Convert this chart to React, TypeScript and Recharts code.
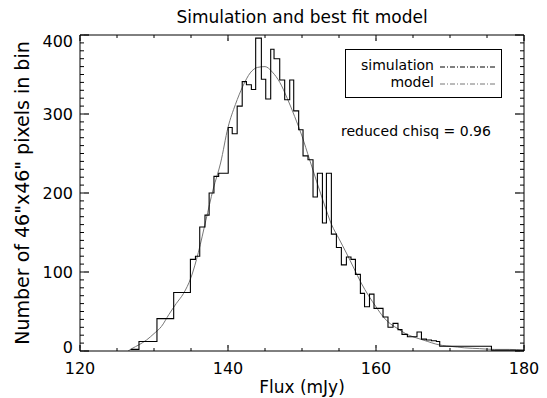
import { ComposedChart, Line, XAxis, YAxis, Legend, Label } from "recharts";

// histogram: left edge of each bin and its count, last bin closes at histEnd
const binLeft = [
  126.85, 127.97, 130.4, 132.66, 134.92, 135.6, 136.18, 136.89, 137.45, 138.1,
  138.74, 140.03, 140.57, 141.24, 141.92, 142.49, 143.16, 143.74, 144.51, 145.1,
  145.77, 146.22, 146.99, 147.66, 148.34, 148.88, 149.55, 150.14, 150.81, 151.49,
  152.08, 152.76, 153.3, 153.97, 154.65, 155.32, 156.0, 156.62, 157.22, 157.89,
  158.45, 159.12, 159.73, 160.95, 161.62, 162.3, 162.97, 163.51, 164.24, 165.54,
  166.14, 166.81, 167.49, 168.16, 168.61, 175.6,
];
const binCount = [
  2, 12, 41, 74, 116, 120, 157, 172, 200, 221,
  225, 283, 275, 310, 341, 337, 331, 396, 344, 319,
  382, 370, 343, 318, 343, 304, 280, 247, 242, 195,
  225, 162, 225, 148, 131, 109, 119, 116, 97, 73,
  56, 72, 54, 43, 30, 35, 27, 21, 18, 24,
  15, 14, 13, 12, 6, 1,
];
const histEnd = 180;

// best fit model curve
const modelFlux = [
  126.5, 127, 128, 129, 130, 131, 132, 133, 134, 135, 136, 137, 138, 139, 140,
  141, 142, 143, 144, 145, 146, 147, 148, 149, 150, 151, 152, 153, 154, 155,
  156, 157, 158, 159, 160, 161, 162, 163, 164, 165, 166, 167, 168, 169, 170,
  172, 174, 176, 178, 180,
];
const modelCount = [
  0, 3, 8, 14, 22, 31, 46, 60, 73, 93, 125, 165, 205, 238, 283,
  312, 335, 352, 359, 360, 353, 340, 320, 297, 272, 243, 214, 186, 160, 142,
  124, 105, 86, 70, 56, 43, 34, 28, 22, 18, 15, 12, 9, 7, 6,
  4, 3, 2, 2, 1,
];

const xMajor = [120, 140, 160, 180];
const yMajor = [0, 100, 200, 300, 400];
const xMinorStep = 5;
const yMinorStep = 10;

const legendItems = [
  { name: "simulation", color: "#000" },
  { name: "model", color: "#777" },
];
const chisqText = "reduced chisq = 0.96";

const FONT = "'DejaVu Sans', sans-serif";
const X_MINOR = 3;
const Y_MINOR = 4;

const histData = binLeft
  .map((f, i) => ({ flux: f, count: binCount[i] }))
  .concat([{ flux: histEnd, count: binCount[binCount.length - 1] }]);
const modelData = modelFlux.map((f, i) => ({ flux: f, count: modelCount[i] }));

const steps = (lo: number, hi: number, step: number) => {
  const out: number[] = [];
  for (let v = lo; v <= hi; v += step) out.push(v);
  return out;
};
const xTicks = steps(xMajor[0], xMajor[xMajor.length - 1], xMinorStep);
const yTicks = steps(yMajor[0], yMajor[yMajor.length - 1], yMinorStep);

// built-in tickLine draws the short (minor) tick; majors get an extension here
const XTick = (props: any) => {
  const x = Number(props.x);
  const y = Number(props.y);
  const value = Number(props.payload.value);
  const bottom = props.side === "bottom";
  const major = xMajor.includes(value);
  return (
    <g>
      {major && (
        <rect x={x - 0.6} y={bottom ? y - 3 : y} width={1.2} height={3} fill="#000" />
      )}
      {bottom && major && (
        <text x={x} y={y + 26} textAnchor="middle" fontSize={16} fontFamily={FONT} fill="#000">
          {value}
        </text>
      )}
    </g>
  );
};

const YTick = (props: any) => {
  const x = Number(props.x);
  const y = Number(props.y);
  const value = Number(props.payload.value);
  const left = props.side === "left";
  const major = yMajor.includes(value);
  const dy = value === yMajor[yMajor.length - 1] ? 12 : value === yMajor[0] ? 2 : 6;
  return (
    <g>
      {major && (
        <rect x={left ? x : x - 5} y={y - 0.6} width={5} height={1.2} fill="#000" />
      )}
      {left && major && (
        <text x={x - 11} y={y + dy} textAnchor="end" fontSize={16} fontFamily={FONT} fill="#000">
          {value}
        </text>
      )}
    </g>
  );
};

const YTitle = ({ viewBox }: any) => {
  const cx = viewBox.x + 2;
  const cy = viewBox.y + viewBox.height / 2;
  return (
    <text
      x={cx}
      y={cy}
      transform={`rotate(-90, ${cx}, ${cy})`}
      textAnchor="middle"
      dominantBaseline="central"
      fontSize={19}
      fontFamily={FONT}
      fill="#000"
    >
      Number of 46"x46" pixels in bin
    </text>
  );
};

const LegendBox = () => (
  <div style={{ fontFamily: FONT, fontSize: 14, color: "#000", lineHeight: "17px" }}>
    <div style={{ border: "1px solid #000", width: 157, height: 49, boxSizing: "border-box", paddingTop: 7 }}>
      {legendItems.map((it) => (
        <div key={it.name} style={{ display: "flex", alignItems: "center" }}>
          <span style={{ width: 88, textAlign: "right" }}>{it.name}</span>
          <svg width={60} height={10} style={{ marginLeft: 6 }}>
            <line x1={0} x2={56} y1={6} y2={6} stroke={it.color} strokeDasharray="5 2 1 2" />
          </svg>
        </div>
      ))}
    </div>
    <div style={{ marginTop: 25, marginLeft: -4, whiteSpace: "nowrap" }}>{chisqText}</div>
  </div>
);

export default function App() {
  return (
    <div style={{ position: "absolute", left: 0, top: 0, width: 547, height: 398, background: "#fff" }}>
      <ComposedChart width={547} height={398} margin={{ top: 34, right: 22, bottom: 17, left: 20 }}>
        <XAxis
          xAxisId="b"
          dataKey="flux"
          type="number"
          domain={[120, 180]}
          allowDataOverflow
          ticks={xTicks}
          interval={0}
          tickSize={-X_MINOR}
          tickMargin={0}
          tickLine={{ stroke: "#000" }}
          tick={(p: any) => <XTick {...p} side="bottom" />}
          axisLine={{ stroke: "#000" }}
          height={30}
        >
          <Label
            value="Flux (mJy)"
            position="bottom"
            offset={0}
            style={{ fontSize: 17, fontFamily: FONT, fill: "#000" }}
          />
        </XAxis>
        <XAxis
          xAxisId="t"
          orientation="top"
          dataKey="flux"
          type="number"
          domain={[120, 180]}
          allowDataOverflow
          ticks={xTicks}
          interval={0}
          tickSize={-X_MINOR}
          tickMargin={0}
          tickLine={{ stroke: "#000" }}
          tick={(p: any) => <XTick {...p} side="top" />}
          axisLine={{ stroke: "#000" }}
          height={1}
        >
          <Label
            value="Simulation and best fit model"
            position="top"
            offset={11}
            style={{ fontSize: 17, fontFamily: FONT, fill: "#000" }}
          />
        </XAxis>
        <YAxis
          yAxisId="l"
          type="number"
          domain={[0, 400]}
          allowDataOverflow
          ticks={yTicks}
          interval={0}
          tickSize={-Y_MINOR}
          tickMargin={0}
          tickLine={{ stroke: "#000" }}
          tick={(p: any) => <YTick {...p} side="left" />}
          axisLine={{ stroke: "#000" }}
          width={60}
        >
          <Label content={YTitle} />
        </YAxis>
        <YAxis
          yAxisId="r"
          orientation="right"
          type="number"
          domain={[0, 400]}
          allowDataOverflow
          ticks={yTicks}
          interval={0}
          tickSize={-Y_MINOR}
          tickMargin={0}
          tickLine={{ stroke: "#000" }}
          tick={(p: any) => <YTick {...p} side="right" />}
          axisLine={{ stroke: "#000" }}
          width={1}
        />
        <Line
          data={modelData}
          xAxisId="t"
          yAxisId="r"
          dataKey="count"
          type="monotone"
          stroke="#777"
          strokeWidth={1}
          dot={false}
          isAnimationActive={false}
        />
        <Line
          data={histData}
          xAxisId="b"
          yAxisId="l"
          dataKey="count"
          type="stepAfter"
          stroke="#000"
          strokeWidth={1.1}
          dot={false}
          isAnimationActive={false}
        />
        <Legend
          layout="vertical"
          align="center"
          verticalAlign="middle"
          content={LegendBox}
          wrapperStyle={{ left: 345, top: 49, width: "auto", height: "auto" }}
        />
      </ComposedChart>
    </div>
  );
}
